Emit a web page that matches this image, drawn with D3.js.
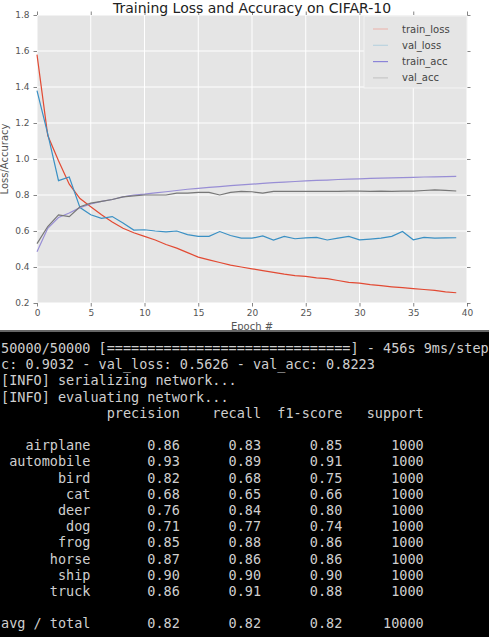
<!DOCTYPE html>
<html>
<head>
  <meta charset="utf-8">
  <title>Training Loss and Accuracy on CIFAR-10</title>
  <script src="https://d3js.org/d3.v7.min.js"></script>
  <style>
    body { margin: 0; background: #fff; }
    svg { display: block; }
  </style>
</head>
<body>
<script>

// ---- chart data ----
var epochs = d3.range(40);

var trainLoss = [1.58, 1.13, 0.99, 0.86, 0.78, 0.735, 0.69, 0.65, 0.615, 0.59,
                 0.57, 0.55, 0.525, 0.505, 0.48, 0.455, 0.44, 0.425, 0.41, 0.40,
                 0.39, 0.38, 0.37, 0.36, 0.352, 0.348, 0.34, 0.335, 0.325, 0.315,
                 0.31, 0.302, 0.296, 0.29, 0.285, 0.28, 0.275, 0.27, 0.262, 0.257];
var valLoss   = [1.38, 1.14, 0.88, 0.90, 0.73, 0.69, 0.67, 0.68, 0.645, 0.605,
                 0.607, 0.60, 0.595, 0.60, 0.58, 0.57, 0.57, 0.597, 0.575, 0.56,
                 0.56, 0.573, 0.55, 0.57, 0.557, 0.562, 0.565, 0.55, 0.56, 0.57,
                 0.551, 0.555, 0.56, 0.57, 0.597, 0.551, 0.565, 0.56, 0.562, 0.5626];
var trainAcc  = [0.485, 0.615, 0.675, 0.70, 0.73, 0.75, 0.765, 0.775, 0.79, 0.80,
                 0.805, 0.812, 0.818, 0.825, 0.832, 0.837, 0.842, 0.847, 0.852, 0.856,
                 0.860, 0.865, 0.869, 0.872, 0.875, 0.878, 0.881, 0.883, 0.886, 0.888,
                 0.890, 0.892, 0.894, 0.895, 0.897, 0.898, 0.900, 0.901, 0.902, 0.9032];
var valAcc    = [0.53, 0.625, 0.69, 0.68, 0.735, 0.755, 0.765, 0.775, 0.79, 0.795,
                 0.80, 0.80, 0.80, 0.81, 0.81, 0.815, 0.815, 0.80, 0.815, 0.82,
                 0.818, 0.81, 0.82, 0.82, 0.82, 0.82, 0.82, 0.82, 0.82, 0.821,
                 0.821, 0.82, 0.822, 0.82, 0.822, 0.822, 0.825, 0.828, 0.826, 0.8223];

var seriesNames  = ["train_loss", "val_loss", "train_acc", "val_acc"];
var seriesColors = ["#E24A33", "#3a90c4", "#988ED5", "#777777"];
var legendColors = ["#eab9b2", "#b9d2de", "#8b84d8", "#c6c6c6"];

var xTicks = [0, 5, 10, 15, 20, 25, 30, 35, 40];
var yTicks = [0.2, 0.4, 0.6, 0.8, 1.0, 1.2, 1.4, 1.6, 1.8];

// ---- terminal output data ----
var logLines = [
  "50000/50000 [==============================] - 456s 9ms/step",
  "c: 0.9032 - val_loss: 0.5626 - val_acc: 0.8223",
  "[INFO] serializing network...",
  "[INFO] evaluating network..."
];
var reportHeaders = ["precision", "recall", "f1-score", "support"];
var classes   = ["airplane", "automobile", "bird", "cat", "deer", "dog", "frog", "horse", "ship", "truck"];
var precision = [0.86, 0.93, 0.82, 0.68, 0.76, 0.71, 0.85, 0.87, 0.90, 0.86];
var recall    = [0.83, 0.89, 0.68, 0.65, 0.84, 0.77, 0.88, 0.86, 0.90, 0.91];
var f1score   = [0.85, 0.91, 0.75, 0.66, 0.80, 0.74, 0.86, 0.86, 0.90, 0.88];
var support   = [1000, 1000, 1000, 1000, 1000, 1000, 1000, 1000, 1000, 1000];
var avgRow    = ["avg / total", 0.82, 0.82, 0.82, 10000];

var W = 489, H = 637;
var plot = {left: 37, right: 467, top: 15, bottom: 303};

var svg = d3.select("body").append("svg")
    .attr("width", W)
    .attr("height", H);

svg.append("rect").attr("width", W).attr("height", H).attr("fill", "#fff");

var x = d3.scaleLinear().domain([0, 40]).range([plot.left, plot.right]);
var y = d3.scaleLinear().domain([0.2, 1.8]).range([plot.bottom, plot.top]);

// plot background
svg.append("rect")
    .attr("x", plot.left).attr("y", plot.top)
    .attr("width", plot.right - plot.left)
    .attr("height", plot.bottom - plot.top)
    .attr("fill", "#e5e5e5");

// grid
svg.append("g").selectAll("line").data(xTicks).join("line")
    .attr("x1", function(d) { return x(d); }).attr("x2", function(d) { return x(d); })
    .attr("y1", plot.top).attr("y2", plot.bottom)
    .attr("stroke", "#fff").attr("stroke-width", 1);
svg.append("g").selectAll("line").data(yTicks).join("line")
    .attr("y1", function(d) { return y(d); }).attr("y2", function(d) { return y(d); })
    .attr("x1", plot.left).attr("x2", plot.right)
    .attr("stroke", "#fff").attr("stroke-width", 1);

// axes: ticks out on all four sides, labels left and bottom
function styleAxis(g, showLabels) {
  g.select(".domain").remove();
  g.selectAll(".tick line").attr("stroke", "#666").attr("stroke-width", 0.8);
  g.selectAll(".tick text")
      .attr("fill", "#555")
      .style("font-family", "DejaVu Sans, sans-serif")
      .style("font-size", "9px");
  if (!showLabels) g.selectAll(".tick text").remove();
}

svg.append("g").attr("transform", "translate(0," + plot.bottom + ")")
    .call(d3.axisBottom(x).tickValues(xTicks).tickSize(3.5).tickPadding(3).tickFormat(d3.format("d")))
    .call(styleAxis, true);
svg.append("g").attr("transform", "translate(0," + plot.top + ")")
    .call(d3.axisTop(x).tickValues(xTicks).tickSize(3.5))
    .call(styleAxis, false);
svg.append("g").attr("transform", "translate(" + plot.left + ",0)")
    .call(d3.axisLeft(y).tickValues(yTicks).tickSize(3.5).tickPadding(4).tickFormat(d3.format(".1f")))
    .call(styleAxis, true);
svg.append("g").attr("transform", "translate(" + plot.right + ",0)")
    .call(d3.axisRight(y).tickValues(yTicks).tickSize(3.5))
    .call(styleAxis, false);

// lines
var seriesData = [trainLoss, valLoss, trainAcc, valAcc];
var line = d3.line()
    .x(function(d, i) { return x(epochs[i]); })
    .y(function(d) { return y(d); });

svg.append("g").selectAll("path").data(seriesData).join("path")
    .attr("d", line)
    .attr("fill", "none")
    .attr("stroke", function(d, i) { return seriesColors[i]; })
    .attr("stroke-width", 1.2);

// title and axis labels
svg.append("text")
    .attr("x", (plot.left + plot.right) / 2).attr("y", 13)
    .attr("text-anchor", "middle")
    .style("font-family", "DejaVu Sans, sans-serif")
    .style("font-size", "14px")
    .attr("fill", "#222")
    .text("Training Loss and Accuracy on CIFAR-10");

svg.append("text")
    .attr("x", (plot.left + plot.right) / 2).attr("y", 330)
    .attr("text-anchor", "middle")
    .style("font-family", "DejaVu Sans, sans-serif")
    .style("font-size", "10px")
    .attr("fill", "#555")
    .text("Epoch #");

svg.append("text")
    .attr("transform", "translate(8," + ((plot.top + plot.bottom) / 2) + ") rotate(-90)")
    .attr("text-anchor", "middle")
    .style("font-family", "DejaVu Sans, sans-serif")
    .style("font-size", "10px")
    .attr("fill", "#555")
    .text("Loss/Accuracy");

// legend
var legend = svg.append("g").attr("transform", "translate(364,16)");
legend.append("rect")
    .attr("width", plot.right - 364).attr("height", 72)
    .attr("fill", "#e5e5e5")
    .attr("stroke", "#f4f4f4").attr("stroke-width", 1);
var items = legend.selectAll("g.item").data(seriesNames).join("g")
    .attr("class", "item")
    .attr("transform", function(d, i) { return "translate(0," + (13 + i * 16.3) + ")"; });
items.append("line")
    .attr("x1", 9).attr("x2", 24)
    .attr("stroke", function(d, i) { return legendColors[i]; })
    .attr("stroke-width", 1.2);
items.append("text")
    .attr("x", 38).attr("y", 3.5)
    .style("font-family", "DejaVu Sans, sans-serif")
    .style("font-size", "10px")
    .attr("fill", "#444")
    .text(function(d) { return d; });

// ---- terminal panel ----
var termTop = 331;
svg.append("rect").attr("x", 0).attr("y", termTop - 1).attr("width", W).attr("height", 2).attr("fill", "#666");
svg.append("rect").attr("x", 0).attr("y", termTop + 1).attr("width", W).attr("height", H - termTop).attr("fill", "#000");

var f2 = d3.format(".2f");
function pad(s, n) { s = String(s); while (s.length < n) s = " " + s; return s; }

var textLines = logLines.slice();
textLines.push(pad("", 11) + "  " + reportHeaders.map(function(h) { return pad(h, 9); }).join(" "));
textLines.push("");
classes.forEach(function(c, i) {
  textLines.push(pad(c, 11) + "  " +
    [precision[i], recall[i], f1score[i]].map(function(v) { return pad(f2(v), 9); }).join(" ") +
    " " + pad(support[i], 9));
});
textLines.push("");
textLines.push(pad(avgRow[0], 11) + "  " +
  [avgRow[1], avgRow[2], avgRow[3]].map(function(v) { return pad(f2(v), 9); }).join(" ") +
  " " + pad(avgRow[4], 9));

svg.append("g").selectAll("text").data(textLines).join("text")
    .attr("x", 1)
    .attr("y", function(d, i) { return 353 + i * 16.2; })
    .attr("xml:space", "preserve")
    .style("white-space", "pre")
    .style("font-family", "DejaVu Sans Mono, monospace")
    .style("font-size", "13.5px")
    .attr("fill", "#cfcfcf")
    .text(function(d) { return d; });

</script>
</body>
</html>
